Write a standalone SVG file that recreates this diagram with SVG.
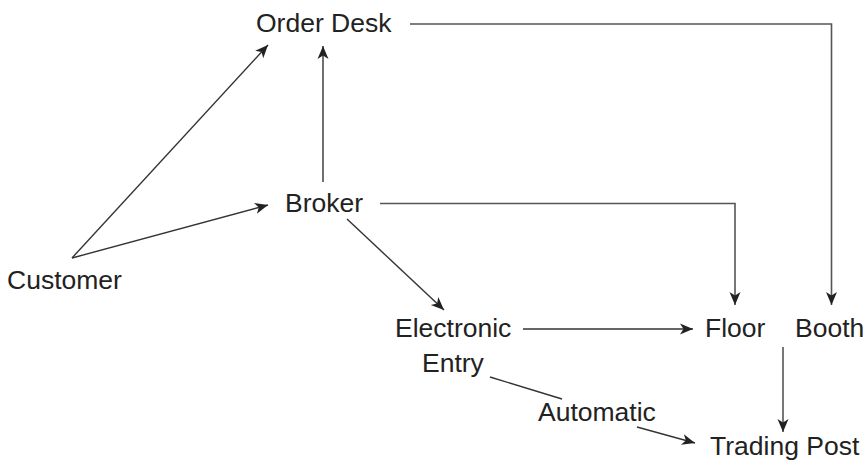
<svg xmlns="http://www.w3.org/2000/svg" width="868" height="461" viewBox="0 0 868 461">
<defs>
<style>
.t{font-family:"Liberation Sans",Arial,sans-serif;font-size:26.5px;fill:#222;}
.c{fill:none;stroke:#333;stroke-width:1.4;}
.g{fill:none;stroke:#555;stroke-width:1.6;}
</style>
<marker id="ah" viewBox="-13 -6 14 12" refX="0" refY="0" markerWidth="14" markerHeight="12" markerUnits="userSpaceOnUse" orient="auto">
<path d="M0,0 L-13,-5.5 L-9.5,0 L-13,5.5 Z" fill="#222"/>
</marker>
</defs>
<rect width="868" height="461" fill="#fff"/>
<g id="connectors">
<path class="c" d="M72,258 L268,45" marker-end="url(#ah)"/>
<path class="c" d="M72,258 L268,205" marker-end="url(#ah)"/>
<path class="c" d="M323,182 L323,46" marker-end="url(#ah)"/>
<path class="g" d="M410,24 L831.5,24 L831.5,305" marker-end="url(#ah)"/>
<path class="g" d="M380,203.5 L735,203.5 L735,305" marker-end="url(#ah)"/>
<path class="c" d="M347,219 L444,310" marker-end="url(#ah)"/>
<path class="c" d="M523,329 L693,329" marker-end="url(#ah)"/>
<path class="g" d="M783,347 L783,432" marker-end="url(#ah)"/>
<path class="c" d="M490,377 L562,399"/>
<path class="c" d="M637,427 L695,443" marker-end="url(#ah)"/>
</g>
<g id="order-desk"><text class="t" x="256" y="32">Order Desk</text></g>
<g id="broker"><text class="t" x="285" y="212">Broker</text></g>
<g id="customer"><text class="t" x="7" y="289">Customer</text></g>
<g id="electronic-entry"><text class="t" x="395" y="337">Electronic</text><text class="t" x="422" y="372">Entry</text></g>
<g id="floor"><text class="t" x="705" y="337">Floor</text></g>
<g id="booth"><text class="t" x="795" y="337">Booth</text></g>
<g id="automatic"><text class="t" x="538" y="421">Automatic</text></g>
<g id="trading-post"><text class="t" x="710" y="455">Trading Post</text></g>
</svg>
